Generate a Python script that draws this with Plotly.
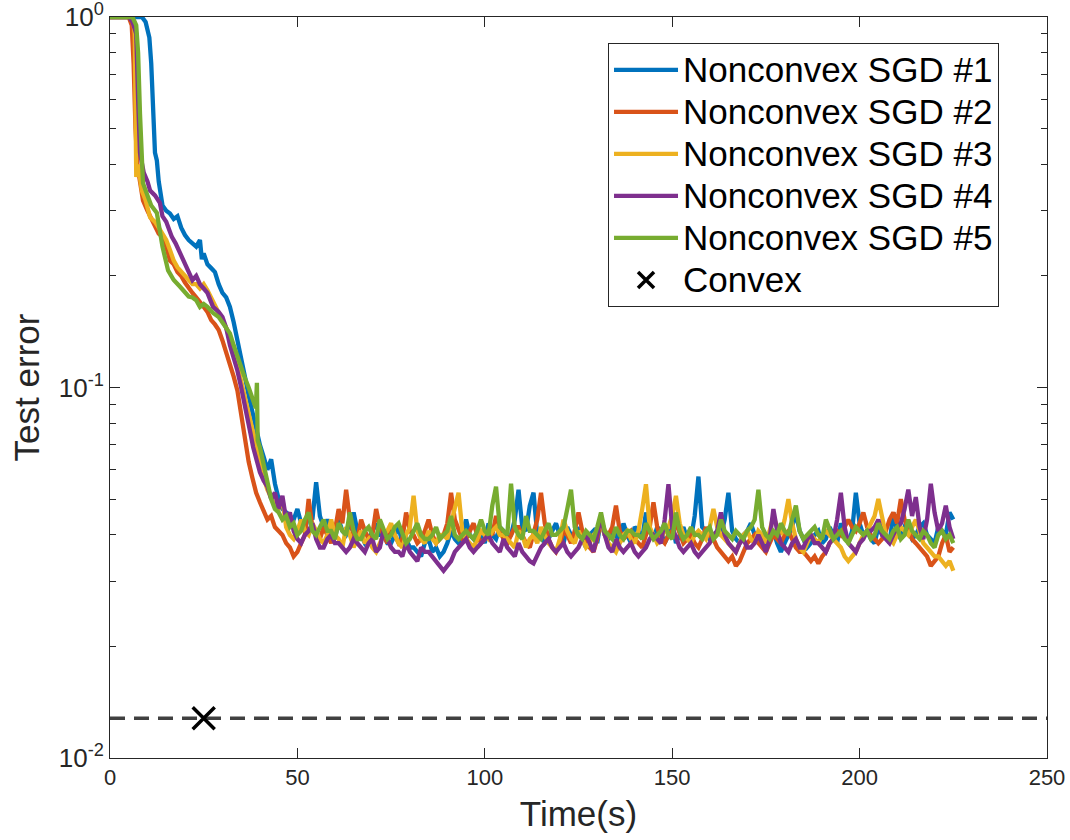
import plotly.graph_objects as go

# ---------------- data ----------------
series_names = ["Nonconvex SGD #1", "Nonconvex SGD #2", "Nonconvex SGD #3",
                "Nonconvex SGD #4", "Nonconvex SGD #5"]
convex_name = "Convex"
series_colors = ["#0072BD", "#D95319", "#EDB120", "#7E2F8E", "#77AC30"]

# early (descent) phase, per series
sgd1_head_t = [0, 8.5, 9.5, 10.5, 11.0, 11.5, 12.0, 12.5, 13.0, 14.0, 15.0, 16.0, 17.0, 18.0, 19.0, 20.0,
               21.0, 22.0, 23.0, 24.0, 24.5, 25.0, 26.0, 27.0, 28.0, 29.0, 30.0, 31.0, 32.0, 33.0, 34.0,
               35.0, 36.0, 37.0, 38.0, 39.0, 40.0, 41.0, 42.0, 43.0, 44.0]
sgd1_head_v = [1.0, 1.0, 0.97, 0.88, 0.75, 0.55, 0.43, 0.41, 0.36, 0.31, 0.30, 0.295, 0.285, 0.29, 0.27, 0.258,
               0.25, 0.245, 0.24, 0.25, 0.222, 0.23, 0.215, 0.21, 0.205, 0.19, 0.18, 0.175, 0.165, 0.15, 0.135,
               0.12, 0.107, 0.095, 0.085, 0.078, 0.07, 0.065, 0.06, 0.064, 0.055]

sgd2_head_t = [0, 5.0, 5.8, 6.3, 6.8, 7.3, 8.0, 8.8, 10, 11, 12, 13, 14, 15, 16, 17, 18, 19, 20, 21, 22,
               23, 24, 25, 26, 27, 28, 29, 30, 31, 32, 33, 34, 35, 36, 37, 38, 39, 40, 41, 42, 43, 44]
sgd2_head_v = [1.0, 1.0, 0.95, 0.75, 0.5, 0.4, 0.36, 0.32, 0.30, 0.285, 0.27, 0.26, 0.255, 0.24, 0.22, 0.215,
               0.205, 0.2, 0.192, 0.185, 0.18, 0.175, 0.169, 0.165, 0.16, 0.152, 0.148, 0.143, 0.134, 0.125,
               0.116, 0.107, 0.098, 0.085, 0.072, 0.063, 0.057, 0.052, 0.049, 0.046, 0.044, 0.045, 0.042]

sgd3_head_t = [0, 5.5, 6.2, 6.6, 7.0, 7.5, 8.5, 9.5, 10.7, 12, 13, 14, 15, 16, 17, 18, 19, 20, 21, 22, 23,
               24, 25, 26, 27, 28, 29, 30, 31, 32, 33, 34, 35, 36, 37, 38, 39, 40, 41, 42, 43, 44]
sgd3_head_v = [1.0, 1.0, 0.97, 0.9, 0.37, 0.40, 0.34, 0.32, 0.288, 0.28, 0.27, 0.26, 0.25, 0.235, 0.22, 0.211,
               0.205, 0.2, 0.195, 0.19, 0.19, 0.185, 0.19, 0.183, 0.175, 0.168, 0.159, 0.152, 0.145, 0.135,
               0.125, 0.115, 0.104, 0.094, 0.084, 0.075, 0.068, 0.062, 0.057, 0.053, 0.05, 0.048]

sgd4_head_t = [0, 5.0, 6.0, 7.0, 7.5, 8.0, 9.0, 10.0, 10.7, 12.0, 13.3, 14.0, 15.0, 16.5, 17.5, 18.7, 20.0,
               21.0, 22.0, 23.0, 24.0, 25.0, 26.0, 27.5, 29.0, 30.0, 31.0, 32.0, 33.0, 34.0, 35.0, 36.0,
               36.5, 37.5, 38.2, 39.0, 40.0, 41.0, 42.0, 43.0, 44.0]
sgd4_head_v = [1.0, 1.0, 0.97, 0.9, 0.6, 0.43, 0.38, 0.36, 0.34, 0.33, 0.315, 0.29, 0.28, 0.255, 0.245, 0.23,
               0.215, 0.205, 0.195, 0.2, 0.19, 0.185, 0.18, 0.165, 0.16, 0.155, 0.145, 0.13, 0.12, 0.111, 0.1,
               0.09, 0.085, 0.075, 0.069, 0.064, 0.059, 0.056, 0.054, 0.05, 0.052]

sgd5_head_t = [0, 6.0, 7.0, 7.5, 8.0, 8.5, 8.8, 10.0, 11.0, 12.5, 13.3, 14.0, 15.5, 17.0, 18.7, 20.0, 21.0,
               22.0, 23.0, 24.0, 25.0, 26.0, 27.5, 29.0, 30.0, 31.0, 32.0, 33.0, 34.0, 35.0, 36.0, 37.0,
               38.0, 38.9, 39.2, 39.4, 40.0, 41.0, 42.0, 43.0, 44.0]
sgd5_head_v = [1.0, 1.0, 0.95, 0.8, 0.55, 0.4, 0.356, 0.33, 0.31, 0.296, 0.26, 0.24, 0.207, 0.195, 0.187,
               0.18, 0.176, 0.175, 0.172, 0.165, 0.168, 0.165, 0.159, 0.155, 0.15, 0.145, 0.14, 0.13, 0.121,
               0.113, 0.106, 0.1, 0.094, 0.088, 0.103, 0.072, 0.069, 0.062, 0.056, 0.05, 0.047]

# plateau phase, one reading per second from t = 45 s to t = 225 s
tail_t = list(range(45, 226))

sgd1_tail_v = [
    .050, .047, .046, .045, .044, .047, .043, .041, .046, .044,
    .0555, .045, .042, .044, .041, .039, .044, .041, .040, .042,
    .046, .041, .040, .038, .039, .041, .043, .040, .040, .038,
    .038, .040, .042, .038, .039, .037, .037, .036, .035, .038,
    .039, .036, .037, .035, .036, .038, .041, .039, .038, .040,
    .044, .040, .039, .041, .040, .038, .043, .040, .039, .042,
    .041, .039, .040, .044, .053, .042, .041, .048, .052, .040,
    .040, .038, .039, .041, .043, .040, .038, .042, .040, .039,
    .042, .039, .037, .040, .041, .038, .044, .040, .039, .041,
    .040, .038, .043, .040, .038, .042, .041, .039, .046, .041,
    .039, .042, .041, .038, .040, .043, .038, .040, .042, .039,
    .039, .045, .0575, .042, .041, .039, .039, .041, .040, .044,
    .052, .041, .039, .038, .040, .041, .043, .040, .039, .038,
    .037, .039, .041, .038, .036, .038, .040, .042, .046, .041,
    .039, .037, .038, .040, .041, .038, .039, .042, .040, .038,
    .043, .040, .038, .041, .052, .043, .040, .041, .039, .038,
    .042, .040, .040, .038, .046, .041, .039, .042, .041, .039,
    .040, .042, .043, .040, .039, .038, .042, .041, .040, .046,
    .044]
sgd2_tail_v = [
    .041, .040, .038, .037, .035, .036, .038, .040, .050, .042,
    .040, .039, .042, .040, .038, .041, .047, .043, .053, .044,
    .040, .039, .044, .041, .039, .040, .047, .042, .040, .038,
    .042, .040, .038, .039, .046, .041, .040, .038, .039, .041,
    .044, .040, .038, .039, .040, .043, .052, .044, .041, .039,
    .039, .041, .043, .040, .038, .039, .041, .040, .045, .041,
    .039, .038, .040, .042, .042, .040, .038, .037, .040, .044,
    .052, .043, .039, .037, .036, .038, .041, .040, .038, .041,
    .046, .041, .039, .037, .036, .039, .044, .041, .040, .042,
    .048, .041, .039, .040, .041, .039, .038, .037, .040, .042,
    .049, .042, .039, .038, .040, .041, .043, .040, .038, .039,
    .040, .038, .037, .039, .042, .040, .039, .037, .036, .035,
    .034, .035, .033, .034, .036, .038, .039, .040, .038, .037,
    .036, .038, .040, .039, .038, .040, .041, .039, .037, .036,
    .036, .035, .034, .035, .0335, .035, .036, .038, .039, .041,
    .040, .042, .044, .042, .041, .043, .046, .042, .040, .039,
    .038, .039, .041, .044, .046, .043, .050, .044, .041, .039,
    .038, .037, .036, .035, .033, .034, .035, .038, .040, .036,
    .037]
sgd3_tail_v = [
    .047, .050, .042, .040, .039, .041, .044, .041, .040, .043,
    .041, .039, .038, .040, .044, .040, .039, .037, .042, .040,
    .037, .039, .041, .038, .039, .037, .036, .038, .040, .041,
    .043, .040, .038, .037, .040, .042, .051, .041, .039, .038,
    .041, .039, .038, .040, .040, .039, .043, .048, .052, .041,
    .039, .038, .037, .039, .041, .040, .039, .041, .042, .040,
    .040, .039, .038, .037, .041, .040, .037, .039, .040, .038,
    .042, .040, .038, .037, .036, .039, .044, .041, .039, .038,
    .041, .039, .037, .038, .040, .041, .043, .040, .038, .037,
    .036, .038, .040, .041, .039, .038, .041, .047, .0548, .042,
    .040, .038, .039, .041, .042, .045, .051, .043, .040, .039,
    .038, .040, .041, .040, .039, .042, .047, .042, .040, .039,
    .038, .037, .036, .038, .040, .041, .039, .038, .041, .040,
    .038, .041, .045, .042, .040, .044, .050, .043, .039, .037,
    .036, .038, .040, .039, .038, .040, .041, .040, .039, .038,
    .037, .035, .034, .035, .036, .038, .040, .041, .043, .045,
    .050, .044, .040, .039, .038, .040, .042, .041, .040, .042,
    .044, .041, .038, .037, .036, .035, .035, .034, .033, .034,
    .032]
sgd4_tail_v = [
    .047, .051, .044, .046, .041, .039, .038, .040, .041, .043,
    .039, .037, .037, .039, .040, .038, .038, .037, .036, .037,
    .039, .038, .037, .036, .038, .039, .036, .037, .041, .039,
    .037, .036, .036, .035, .038, .036, .035, .034, .037, .036,
    .036, .035, .034, .033, .032, .033, .034, .036, .037, .038,
    .039, .037, .036, .037, .038, .039, .040, .038, .037, .036,
    .039, .037, .036, .035, .038, .036, .035, .034, .0335, .035,
    .037, .038, .039, .037, .036, .037, .038, .036, .035, .036,
    .037, .039, .040, .038, .036, .040, .045, .040, .037, .036,
    .039, .037, .036, .037, .038, .036, .035, .036, .037, .039,
    .040, .039, .038, .044, .0548, .042, .039, .037, .036, .037,
    .038, .036, .035, .036, .037, .038, .040, .041, .046, .040,
    .038, .037, .036, .038, .039, .037, .037, .038, .040, .038,
    .036, .039, .047, .041, .038, .037, .036, .038, .039, .037,
    .037, .039, .040, .038, .038, .037, .036, .038, .039, .044,
    .052, .042, .038, .037, .036, .038, .039, .041, .041, .042,
    .044, .040, .039, .038, .040, .042, .043, .047, .053, .045,
    .0506, .042, .039, .044, .055, .046, .041, .043, .048, .042,
    .039]
sgd5_tail_v = [
    .046, .044, .045, .042, .043, .040, .041, .044, .046, .041,
    .040, .042, .044, .041, .041, .039, .043, .041, .040, .046,
    .041, .039, .039, .041, .042, .040, .039, .044, .041, .039,
    .040, .042, .043, .040, .038, .039, .041, .043, .040, .039,
    .039, .040, .042, .039, .040, .041, .045, .040, .039, .040,
    .041, .040, .039, .041, .044, .041, .040, .048, .054, .042,
    .041, .040, .055, .042, .040, .039, .045, .041, .041, .040,
    .039, .041, .043, .040, .040, .041, .042, .047, .053, .042,
    .040, .039, .041, .040, .039, .042, .046, .041, .040, .039,
    .042, .040, .039, .041, .041, .040, .040, .039, .043, .041,
    .039, .040, .041, .043, .040, .039, .046, .041, .039, .040,
    .042, .040, .040, .039, .041, .042, .039, .040, .044, .041,
    .040, .039, .041, .040, .039, .041, .042, .044, .053, .042,
    .040, .039, .041, .040, .043, .041, .040, .044, .048, .041,
    .039, .040, .041, .042, .040, .039, .044, .041, .039, .040,
    .041, .039, .038, .040, .042, .041, .040, .041, .039, .040,
    .043, .041, .040, .039, .041, .042, .039, .040, .044, .041,
    .040, .039, .041, .040, .038, .037, .040, .041, .039, .040,
    .038]

convex_time = [25]
convex_error = [0.0128]

x_range = [0, 250]
x_ticks = [0, 50, 100, 150, 200, 250]
y_ticks = [0.01, 0.1, 1]
y_tick_text = ["10<sup>-2</sup>", "10<sup>-1</sup>", "10<sup>0</sup>"]
y_minor_mult = [2, 3, 4, 5, 6, 7, 8, 9]

heads_t = [sgd1_head_t, sgd2_head_t, sgd3_head_t, sgd4_head_t, sgd5_head_t]
heads_v = [sgd1_head_v, sgd2_head_v, sgd3_head_v, sgd4_head_v, sgd5_head_v]
tails_v = [sgd1_tail_v, sgd2_tail_v, sgd3_tail_v, sgd4_tail_v, sgd5_tail_v]
for tv in tails_v:
    assert len(tv) == len(tail_t), len(tv)

# ---------------- figure ----------------
FONT = "Liberation Sans, Arial, Helvetica, sans-serif"
AX = "#262626"
LEG_TEXT = 35   # legend glyph size; the legend font size below sets the (tighter) row pitch


def leg(label):
    return "<span style='font-size:%dpx'>%s</span>" % (LEG_TEXT, label)


fig = go.Figure()
for name, col, ht, hv, tv in zip(series_names, series_colors, heads_t, heads_v, tails_v):
    fig.add_trace(go.Scatter(x=ht + tail_t, y=hv + tv, mode="lines", name=leg(name),
                             line=dict(color=col, width=4.3)))

fig.add_trace(go.Scatter(x=x_range, y=convex_error * 2, mode="lines", showlegend=False,
                         line=dict(color="#404040", width=3.6, dash="15px,9px"), hoverinfo="skip"))
fig.add_trace(go.Scatter(x=convex_time, y=convex_error, mode="markers", name=leg(convex_name),
                         marker=dict(symbol="x-thin", size=22, color="black",
                                     line=dict(color="black", width=3.5))))

minor_vals = [m * d for d in y_ticks[:-1] for m in y_minor_mult]

fig.update_layout(
    width=1070, height=840,
    margin=dict(l=110, r=23, t=17, b=82),
    plot_bgcolor="white", paper_bgcolor="white",
    font=dict(family=FONT, color=AX),
    showlegend=True,
    legend=dict(x=0.5315, y=0.965, xanchor="left", yanchor="top",
                bordercolor=AX, borderwidth=1, bgcolor="white",
                font=dict(size=30, color="black", family=FONT),
                itemwidth=64, tracegroupgap=0),
    xaxis=dict(range=x_range, tickvals=x_ticks, showgrid=False, zeroline=False, automargin=False,
               showline=True, linecolor=AX, linewidth=1, mirror="ticks",
               ticks="inside", ticklen=10, tickcolor=AX, ticklabeloverflow="allow",
               tickfont=dict(size=22, color=AX),
               title=dict(text="Time(s)", font=dict(size=35, color=AX), standoff=12)),
    yaxis=dict(type="log", range=[-2, 0], tickvals=y_ticks, ticktext=y_tick_text,
               showgrid=False, zeroline=False, automargin=False,
               showline=True, linecolor=AX, linewidth=1, mirror="ticks",
               ticks="inside", ticklen=10, tickcolor=AX, ticklabeloverflow="allow",
               tickfont=dict(size=26, color=AX),
               minor=dict(tickvals=minor_vals, ticks="inside", ticklen=6, tickcolor=AX, showgrid=False),
               title=dict(text="Test error", font=dict(size=35, color=AX), standoff=8)),
)

# the page is photographed at exactly the figure size, so drop the default 8 px body margin
fig.write_html("out.html", config={"displayModeBar": False},
               post_script="document.body.style.margin='0px';")
